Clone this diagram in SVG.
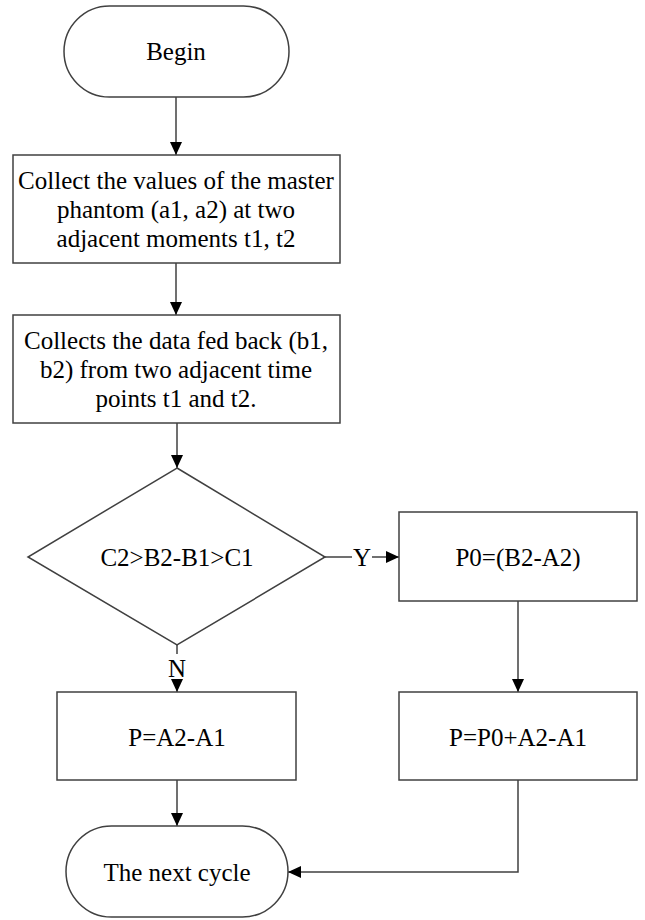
<svg xmlns="http://www.w3.org/2000/svg" width="645" height="920" viewBox="0 0 645 920">
<defs>
<marker id="arr" markerUnits="userSpaceOnUse" markerWidth="14" markerHeight="12" refX="13" refY="6" orient="auto">
<path d="M0,0 L13,6 L0,12 Z" fill="#000"/>
</marker>
<style>
.s{fill:#fff;stroke:#404040;stroke-width:1.5}
.t{font-family:"Liberation Serif","Times New Roman",serif;font-size:25px;fill:#000;text-anchor:middle;dominant-baseline:central}
.c{fill:none;stroke:#404040;stroke-width:1.5}
</style>
</defs>
<rect width="645" height="920" fill="#fff"/>
<g id="connectors">
<line class="c" x1="176" y1="97" x2="176" y2="155" marker-end="url(#arr)"/>
<line class="c" x1="176" y1="263" x2="176" y2="315" marker-end="url(#arr)"/>
<line class="c" x1="177" y1="423" x2="177" y2="468" marker-end="url(#arr)"/>
<line class="c" x1="325" y1="557" x2="352" y2="557"/>
<line class="c" x1="372" y1="557" x2="399" y2="557" marker-end="url(#arr)"/>
<text class="t" x="362" y="557">Y</text>
<line class="c" x1="177" y1="645" x2="177" y2="654"/>
<text class="t" x="177" y="668">N</text>
<line class="c" x1="177" y1="683" x2="177" y2="692" marker-end="url(#arr)"/>
<line class="c" x1="518" y1="601" x2="518" y2="692" marker-end="url(#arr)"/>
<line class="c" x1="177" y1="780" x2="177" y2="826" marker-end="url(#arr)"/>
<polyline class="c" points="518,780 518,872 288,872" marker-end="url(#arr)"/>
</g>
<g id="begin">
<rect class="s" x="64" y="6" width="225" height="91" rx="45.5"/>
<text class="t" x="176" y="51">Begin</text>
</g>
<g id="collect-master">
<rect class="s" x="13" y="155" width="327" height="108"/>
<text class="t" x="176" y="180">Collect the values of the master</text>
<text class="t" x="176" y="209">phantom (a1, a2) at two</text>
<text class="t" x="176" y="238">adjacent moments t1, t2</text>
</g>
<g id="collect-feedback">
<rect class="s" x="13" y="315" width="327" height="108"/>
<text class="t" x="176" y="340">Collects the data fed back (b1,</text>
<text class="t" x="176" y="369">b2) from two adjacent time</text>
<text class="t" x="176" y="398">points t1 and t2.</text>
</g>
<g id="decision">
<polygon class="s" points="177,468 325,557 177,645 28,557"/>
<text class="t" x="177" y="557">C2&gt;B2-B1&gt;C1</text>
</g>
<g id="p0">
<rect class="s" x="399" y="512" width="238" height="89"/>
<text class="t" x="518" y="557">P0=(B2-A2)</text>
</g>
<g id="p-left">
<rect class="s" x="57" y="692" width="239" height="88"/>
<text class="t" x="177" y="737">P=A2-A1</text>
</g>
<g id="p-right">
<rect class="s" x="399" y="692" width="238" height="88"/>
<text class="t" x="518" y="737">P=P0+A2-A1</text>
</g>
<g id="next-cycle">
<rect class="s" x="66" y="826" width="222" height="91" rx="45.5"/>
<text class="t" x="177" y="872">The next cycle</text>
</g>
</svg>
